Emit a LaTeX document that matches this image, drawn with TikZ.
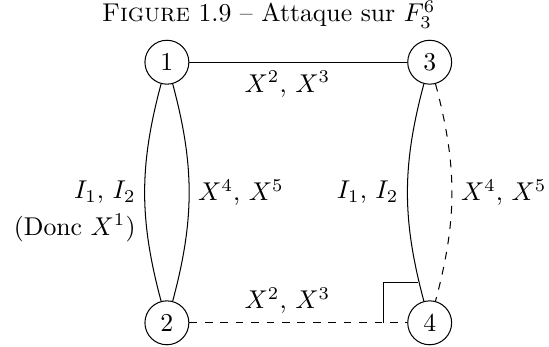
\documentclass[tikz,border=0pt]{standalone}
\usepackage{tikz}
\usepackage{amssymb}
\usetikzlibrary{positioning, calc}

\tikzset{
  sommet/.style={draw, circle, minimum size=0.6cm, inner sep=0pt},
}

\begin{document}
\begin{tikzpicture}
  \useasboundingbox (0,0) rectangle (7.5,-4.74);
  \node (titre) at (3.67,-0.2) {\textsc{Figure} 1.9 -- Attaque sur $F_3^6$};

  \node[sommet] (n1) at (2.28,-0.85) {1};
  \node[sommet] (n3) at (5.87,-0.85) {3};
  \node[sommet] (n2) at (2.28,-4.41) {2};
  \node[sommet] (n4) at (5.87,-4.41) {4};

  \draw (n1) -- node[below, pos=0.45] {$X^2$, $X^3$} (n3);
  \draw[dashed] (n2) -- node[above, pos=0.45] {$X^2$, $X^3$} (n4);

  \draw (n1) to[bend right=15] node[left] (i12) {$I_1$, $I_2$} (n2);
  \node[below=-3pt of i12.south east, anchor=north east] (donc) {(Donc $X^1$)};
  \draw (n1) to[bend left=15] node[right] {$X^4$, $X^5$} (n2);

  \draw (n3) to[bend right=15] node[left] {$I_1$, $I_2$} (n4);
  \draw[dashed] (n3) to[bend left=15] node[right] {$X^4$, $X^5$} (n4);

  % angle droit
  \coordinate (coin) at ($(n4)+(-0.63,0)$);
  \draw (coin) |- ($(n4)+(-0.16,0.55)$);
\end{tikzpicture}
\end{document}
